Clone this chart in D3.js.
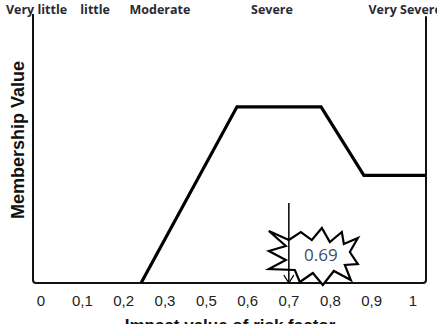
<!DOCTYPE html>
<html>
<head>
<meta charset="utf-8">
<script src="https://cdn.jsdelivr.net/npm/d3@7"></script>
<style>
  body { margin: 0; background: #fff; }
  svg { display: block; }
</style>
</head>
<body>
<div id="chart"></div>
<script>
// linguistic terms written along the top, with their x position (0..1 of the frame)
const terms = ['Very little', 'little', 'Moderate', 'Severe', 'Very Severe']
const termPos = [0.009, 0.158, 0.323, 0.608, 0.947]

// tick labels under the frame (not evenly valued, evenly spaced)
const tickLabels = ['0', '0,1', '0,2', '0,3', '0,5', '0,6', '0,7', '0,8', '0,9', '1']

// membership function
const curveX = [0.275, 0.519, 0.733, 0.842, 1]
const curveY = [0, 0.655, 0.655, 0.40, 0.40]

// marked value
const markerX = 0.651
const markerTop = 0.297
const markerLabel = '0.69'

// starburst outline round the label (offsets in px from its centre)
const burst = [[-44,-24],[-24,-15],[-12,-23],[-1,-15],[9,-27],[17,-13],[29,-23],[31,-11],[45,-17],[37,-3],
  [45,9],[32,10],[38,25],[21,16],[10,30],[0,18],[-13,27],[-18,15],[-44,14],[-27,5],[-44,-4],[-27,-9]]

class fuzzyChart {
  constructor(_parentElement) {
    this.parentElement = _parentElement
    this.initVis()
  }

  initVis() {
    const vis = this

    vis.WIDTH = 437
    vis.HEIGHT = 324

    vis.svg = d3.select(vis.parentElement).append('svg')
      .attr('width', vis.WIDTH)
      .attr('height', vis.HEIGHT)

    vis.x = d3.scaleLinear().domain([0, 1]).range([33, 426])
    vis.y = d3.scaleLinear().domain([0, 1]).range([283, 14])
    vis.xTick = d3.scalePoint().domain(tickLabels).range([41, 413])

    vis.updateVis()
  }

  updateVis() {
    const vis = this
    const x = vis.x, y = vis.y

    // frame: left side, bottom and right side with small rounded corners
    const r = 3
    const p = d3.path()
    p.moveTo(x(0), y(1))
    p.lineTo(x(0), y(0) - r)
    p.quadraticCurveTo(x(0), y(0), x(0) + r, y(0))
    p.lineTo(x(1) - r, y(0))
    p.quadraticCurveTo(x(1), y(0), x(1), y(0) - r)
    p.lineTo(x(1), y(0.992))
    vis.svg.append('path')
      .attr('d', p.toString())
      .attr('fill', 'none')
      .attr('stroke', '#111')
      .attr('stroke-width', 2)

    // membership curve
    const line = d3.line()
      .x((d, i) => x(curveX[i]))
      .y(d => y(d))
    vis.svg.append('path')
      .datum(curveY)
      .attr('d', line)
      .attr('fill', 'none')
      .attr('stroke', '#000')
      .attr('stroke-width', 3.2)

    // starburst
    const cx = x(markerX) + 24, cy = y(0.104)
    vis.svg.append('polygon')
      .attr('points', burst.map(d => [cx + d[0], cy + d[1]].join(',')).join(' '))
      .attr('fill', '#fff')
      .attr('stroke', '#000')
      .attr('stroke-width', 2.2)
      .attr('stroke-linejoin', 'miter')

    vis.svg.append('text')
      .attr('x', cx + 8)
      .attr('y', cy + 6)
      .attr('text-anchor', 'middle')
      .attr('font-family', 'Open Sans, sans-serif')
      .attr('font-size', 17)
      .attr('fill', '#3d4c6a')
      .text(markerLabel)

    // arrow
    vis.svg.append('line')
      .attr('x1', x(markerX)).attr('x2', x(markerX))
      .attr('y1', y(markerTop)).attr('y2', y(0))
      .attr('stroke', '#000')
      .attr('stroke-width', 1.5)
    vis.svg.append('path')
      .attr('d', `M${x(markerX) - 5},${y(0) - 8}L${x(markerX)},${y(0)}L${x(markerX) + 5},${y(0) - 8}`)
      .attr('fill', 'none')
      .attr('stroke', '#000')
      .attr('stroke-width', 1.3)

    // terms on top
    vis.svg.selectAll('.term')
      .data(terms)
      .enter()
      .append('text')
      .attr('class', 'term')
      .attr('x', (d, i) => x(termPos[i]))
      .attr('y', 14)
      .attr('text-anchor', 'middle')
      .attr('font-family', 'Open Sans, sans-serif')
      .attr('font-weight', 'bold')
      .attr('font-size', 12.5)
      .attr('fill', '#2a2a35')
      .text(d => d)

    // tick labels
    vis.svg.selectAll('.tick')
      .data(tickLabels)
      .enter()
      .append('text')
      .attr('class', 'tick')
      .attr('x', d => vis.xTick(d))
      .attr('y', 306)
      .attr('text-anchor', 'middle')
      .attr('font-family', 'Liberation Sans, Arial, sans-serif')
      .attr('font-size', 15)
      .attr('fill', '#222')
      .text(d => d)

    // axis titles
    vis.svg.append('text')
      .attr('transform', 'translate(24,140) rotate(-90)')
      .attr('text-anchor', 'middle')
      .attr('font-family', 'Liberation Sans, Arial, sans-serif')
      .attr('font-weight', 'bold')
      .attr('font-size', 18)
      .attr('fill', '#111')
      .text('Membership Value')

    vis.svg.append('text')
      .attr('x', 230)
      .attr('y', 331)
      .attr('text-anchor', 'middle')
      .attr('font-family', 'Liberation Sans, Arial, sans-serif')
      .attr('font-weight', 'bold')
      .attr('font-size', 17)
      .attr('fill', '#111')
      .text('Impact  value of risk factor')
  }
}

new fuzzyChart('#chart')
</script>
</body>
</html>
